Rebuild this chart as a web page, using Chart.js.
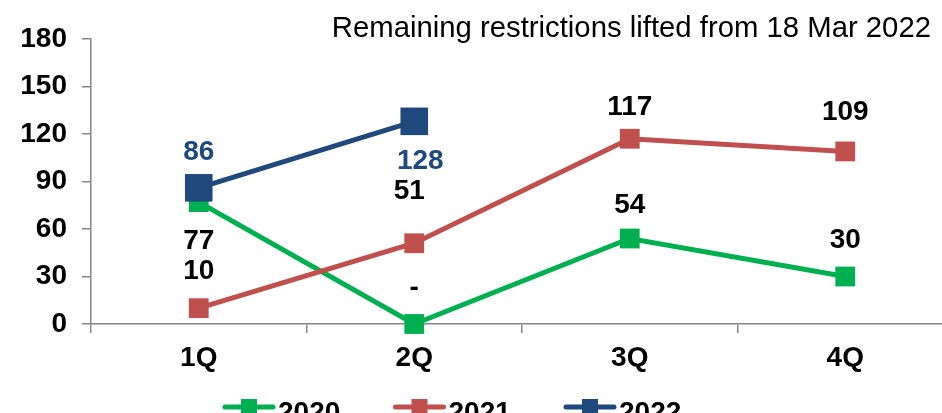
<!DOCTYPE html>
<html>
<head>
<meta charset="utf-8">
<script src="https://cdn.jsdelivr.net/npm/chart.js@4"></script>
<style>
html,body{margin:0;padding:0;background:#fff;overflow:hidden;width:942px;height:413px;}
#wrap{position:relative;width:954px;height:440px;}
canvas{display:block;}
</style>
</head>
<body>
<div id="wrap"><canvas id="c"></canvas></div>
<script>
const categories = ['1Q', '2Q', '3Q', '4Q'];
const seriesNames = ['2020', '2021', '2022'];
const values2020 = [77, 0, 54, 30];
const values2021 = [10, 51, 117, 109];
const values2022 = [86, 128, null, null];
const yTicks = [0, 30, 60, 90, 120, 150, 180];
const titleText = 'Remaining restrictions lifted from 18 Mar 2022';

const FONT = '"Liberation Sans", Arial, sans-serif';
const colors = ['#00B050', '#C0504D', '#1F497D'];
const labelColors = ['#000000', '#000000', '#1F497D'];
const labelDy = [[39, -36, -33, -36], [-37, -52, -31, -39], [-36, 40, 0, 0]];
const labelDx = [[0, 0, 0, 0], [0, -5, 0, 0], [0, 6, 0, 0]];

const labelPlugin = {
  id: 'pointLabels',
  afterDatasetsDraw(chart) {
    const ctx = chart.ctx;
    ctx.save();
    ctx.font = 'bold 28px ' + FONT;
    ctx.textAlign = 'center';
    ctx.textBaseline = 'middle';
    chart.data.datasets.forEach((ds, di) => {
      const meta = chart.getDatasetMeta(di);
      meta.data.forEach((pt, i) => {
        const v = ds.data[i];
        if (v === null || v === undefined) return;
        ctx.fillStyle = labelColors[di];
        ctx.fillText(v === 0 ? '-' : String(v), pt.x + labelDx[di][i], pt.y + labelDy[di][i]);
      });
    });
    ctx.restore();
  }
};

const titlePlugin = {
  id: 'rightTitle',
  afterDraw(chart) {
    const ctx = chart.ctx;
    ctx.save();
    ctx.font = '29.3px ' + FONT;
    ctx.fillStyle = '#000';
    ctx.textAlign = 'right';
    ctx.textBaseline = 'middle';
    ctx.fillText(titleText, 931, 29);
    ctx.restore();
  }
};

const legendPlugin = {
  id: 'lineLegend',
  afterDraw(chart) {
    const ctx = chart.ctx;
    ctx.save();
    ctx.font = 'bold 28px ' + FONT;
    ctx.textBaseline = 'middle';
    ctx.textAlign = 'left';
    chart.data.datasets.forEach((ds, di) => {
      const x0 = 225 + di * 170.5;
      const y = 407;
      ctx.strokeStyle = ds.borderColor;
      ctx.lineWidth = 5;
      ctx.lineCap = 'round';
      ctx.beginPath();
      ctx.moveTo(x0, y);
      ctx.lineTo(x0 + 48, y);
      ctx.stroke();
      ctx.fillStyle = ds.borderColor;
      ctx.fillRect(x0 + 24 - 8, y - 8, 16, 16);
      ctx.fillStyle = '#000';
      ctx.fillText(ds.label, x0 + 53, 413);
    });
    ctx.restore();
  }
};

const seriesValues = [values2020, values2021, values2022];
const pointRadii = [14, 14, 19.5];

new Chart(document.getElementById('c'), {
  type: 'line',
  data: {
    labels: categories,
    datasets: seriesNames.map((name, i) => ({
      label: name,
      data: seriesValues[i],
      borderColor: colors[i],
      backgroundColor: colors[i],
      pointBackgroundColor: colors[i],
      pointBorderColor: colors[i],
      pointBorderWidth: 0,
      pointStyle: 'rect',
      pointRadius: pointRadii[i],
      borderWidth: 5,
      tension: 0,
      clip: false,
      order: 2 - i,
      spanGaps: false
    }))
  },
  options: {
    responsive: true,
    maintainAspectRatio: false,
    animation: false,
    layout: { autoPadding: false, padding: { top: 39, left: 0, right: 1, bottom: 0 } },
    plugins: {
      legend: { display: false },
      title: { display: false },
      tooltip: { enabled: false }
    },
    scales: {
      x: {
        type: 'category',
        offset: true,
        afterFit(s) { s.height = 116; s.paddingLeft = 0; s.paddingRight = 0; },
        grid: { display: true, drawOnChartArea: false, offset: true, tickLength: 9, color: '#868686', lineWidth: 1.5 },
        border: { color: '#868686', width: 1.5 },
        ticks: { color: '#000', font: { family: FONT, size: 28, weight: 'bold' }, padding: 8, maxRotation: 0 }
      },
      y: {
        min: 0,
        max: 180,
        afterFit(s) { s.width = 91; },
        afterBuildTicks(s) { s.ticks = yTicks.map(v => ({ value: v })); },
        grid: { display: true, drawOnChartArea: false, tickLength: 9, color: '#868686', lineWidth: 1.5 },
        border: { color: '#868686', width: 1.5 },
        ticks: { color: '#000', font: { family: FONT, size: 28, weight: 'bold' }, padding: 15 }
      }
    }
  },
  plugins: [labelPlugin, titlePlugin, legendPlugin]
});
</script>
</body>
</html>
